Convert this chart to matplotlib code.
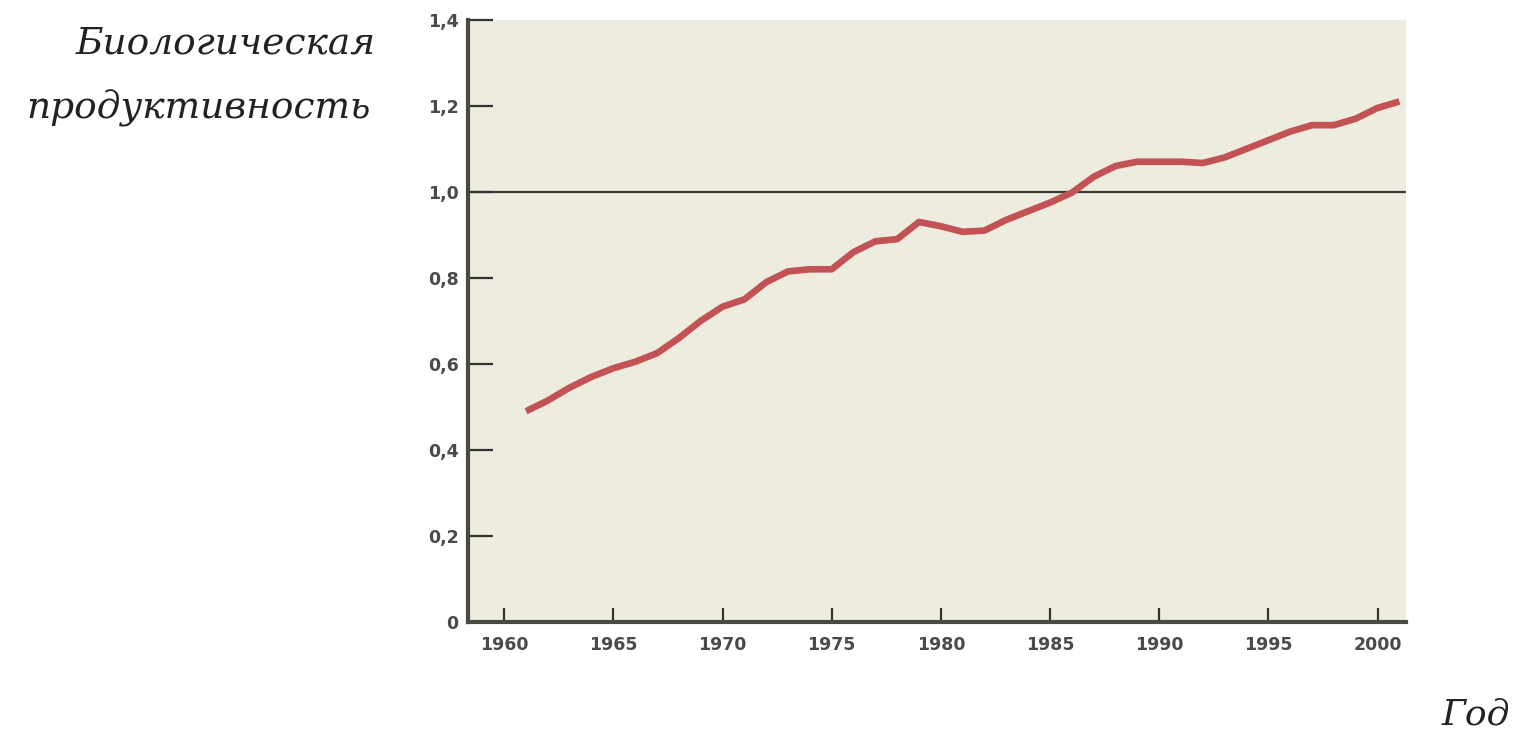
import matplotlib
matplotlib.use("Agg")
import matplotlib.pyplot as plt
import matplotlib.ticker as ticker

# biological productivity index
years = list(range(1961, 2002))
productivity = [
    0.49, 0.515, 0.545, 0.57, 0.59, 0.605, 0.625, 0.66, 0.70, 0.733,
    0.75, 0.79, 0.815, 0.82, 0.82, 0.86, 0.885, 0.89, 0.93, 0.92,
    0.907, 0.91, 0.935, 0.955, 0.975, 0.998, 1.035, 1.06, 1.07, 1.07,
    1.07, 1.067, 1.08, 1.10, 1.12, 1.14, 1.155, 1.155, 1.17, 1.195,
    1.21,
]
x_ticks = [1960, 1965, 1970, 1975, 1980, 1985, 1990, 1995, 2000]
y_ticks = [0, 0.2, 0.4, 0.6, 0.8, 1.0, 1.2, 1.4]
baseline = 1.0

fig = plt.figure(figsize=(15.15, 7.31), dpi=100)
ax = fig.add_axes([0.309, 0.149, 0.619, 0.824])
ax.set_facecolor("#eeebdf")

ax.axhline(baseline, color="#3a3a36", linewidth=1.6, zorder=1)
ax.plot(years, productivity, color="#c25253", linewidth=4.8,
        solid_capstyle="butt", solid_joinstyle="round", zorder=2)

ax.set_xlim(1958.35, 2001.3)
ax.set_ylim(0, 1.4)

for side in ["top", "right"]:
    ax.spines[side].set_visible(False)
for side in ["left", "bottom"]:
    ax.spines[side].set_color("#4a4a44")
    ax.spines[side].set_linewidth(3)

ax.set_xticks(x_ticks)
ax.set_yticks(y_ticks)
ax.yaxis.set_major_formatter(
    ticker.FuncFormatter(lambda v, p: "0" if v == 0 else f"{v:.1f}".replace(".", ",")))
ax.tick_params(axis="both", direction="in", colors="#333333", labelcolor="#4a4a4a",
               labelsize=12.5, width=1.6)
ax.tick_params(axis="x", length=10, pad=10)
ax.tick_params(axis="y", length=18, pad=7)
for lbl in ax.get_xticklabels() + ax.get_yticklabels():
    lbl.set_fontweight("bold")

fig.text(0.248, 0.94, "Биологическая", ha="right", va="center",
         family="DejaVu Serif", style="italic", fontsize=27, color="#222222")
fig.text(0.245, 0.852, "продуктивность", ha="right", va="center",
         family="DejaVu Serif", style="italic", fontsize=27, color="#222222")
fig.text(0.997, 0.022, "Год", ha="right", va="center",
         family="DejaVu Serif", style="italic", fontsize=26, color="#222222")

fig.savefig("out.png", dpi=100, facecolor="white")
